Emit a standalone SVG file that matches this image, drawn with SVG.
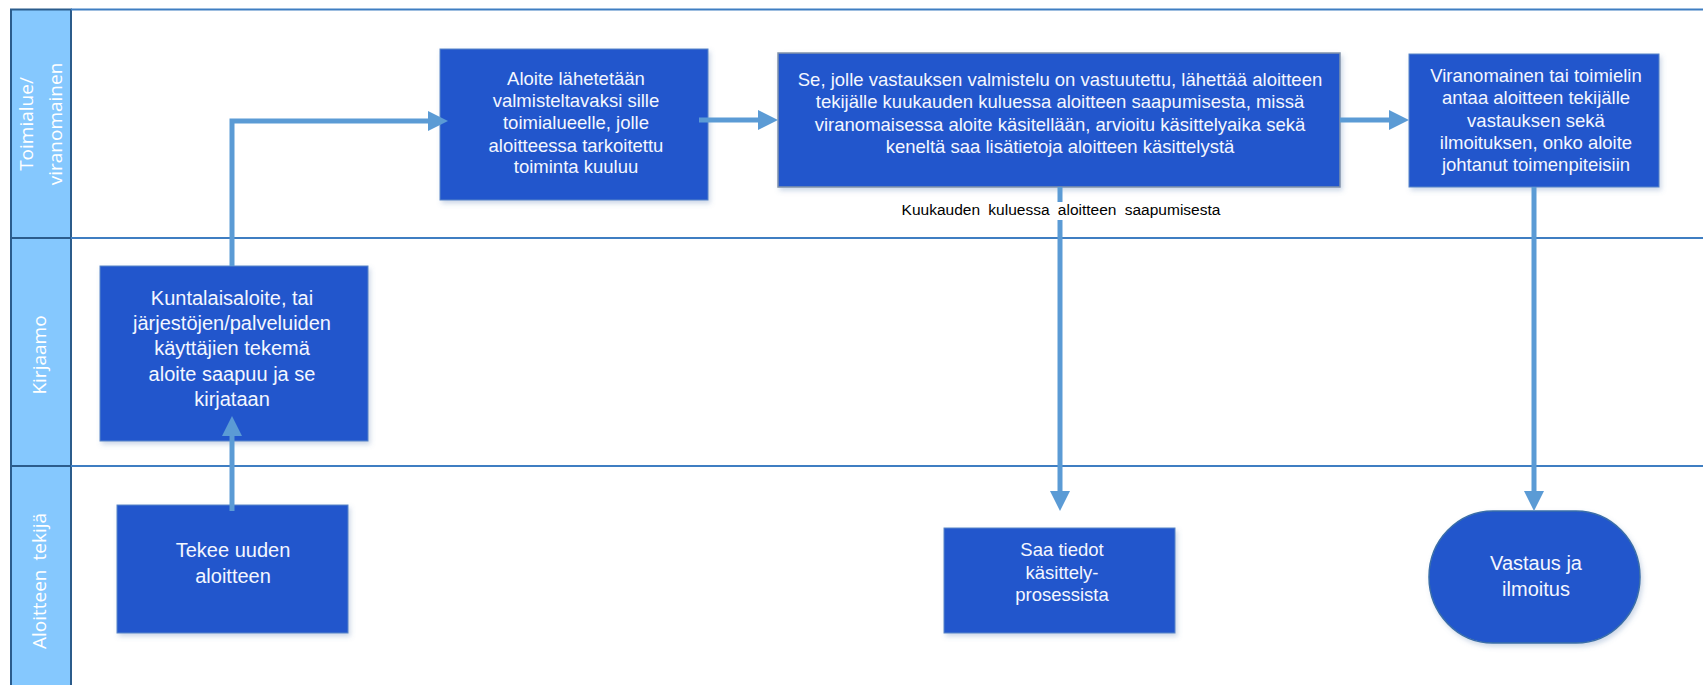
<svg xmlns="http://www.w3.org/2000/svg" width="1703" height="685" viewBox="0 0 1703 685">
<style>
.lane{fill:#85C8FE;stroke:#2B5C8C;stroke-width:2}
.lline{stroke:#3F7EC2;stroke-width:2;fill:none}
.box{fill:#2157CC;stroke:#5B86C8;stroke-width:1}
.box2{fill:#2157CC;stroke:#8193AB;stroke-width:1.5}
.t{font-family:"Liberation Sans",Arial,sans-serif;fill:#F4F7FF;text-anchor:middle}
.s18{font-size:18.5px}
.s20{font-size:20px}
.lt{font-family:"Open Sans","Liberation Sans",sans-serif;font-size:19px;fill:#FFFFFF;text-anchor:middle}
.conn{stroke:#5B9BD5;stroke-width:5;fill:none}
.lbl{font-family:"Liberation Sans",Arial,sans-serif;font-size:15.5px;fill:#000;text-anchor:middle;word-spacing:4px}
</style>
<defs>
<marker id="arr" markerUnits="userSpaceOnUse" markerWidth="22" markerHeight="22" refX="2" refY="10" orient="auto" viewBox="0 0 22 22">
<path d="M0,0 L20,10 L0,20 Z" fill="#5B9BD5"/>
</marker>
<filter id="sh" x="-5%" y="-5%" width="115%" height="120%">
<feDropShadow dx="2" dy="3" stdDeviation="2.5" flood-color="#5B7FB0" flood-opacity="0.3"/>
</filter>
</defs>

<g id="lanes">
<rect class="lane" x="11" y="9.5" width="60" height="690"/>
<line class="lline" x1="71" y1="9.5" x2="1703" y2="9.5"/>
<line class="lline" x1="71" y1="238" x2="1703" y2="238"/>
<line class="lline" x1="71" y1="466" x2="1703" y2="466"/>
<line x1="11" y1="238" x2="71" y2="238" stroke="#2B5C8C" stroke-width="2"/>
<line x1="11" y1="466" x2="71" y2="466" stroke="#2B5C8C" stroke-width="2"/>
<g id="lane1" class="lt"><text transform="translate(33,124) rotate(-90)">Toimialue/</text><text transform="translate(62,124) rotate(-90)">viranomainen</text></g>
<g id="lane2" class="lt"><text transform="translate(46,355) rotate(-90)">Kirjaamo</text></g>
<g id="lane3" class="lt"><text transform="translate(46,581) rotate(-90)" style="word-spacing:4px">Aloitteen tekijä</text></g>
</g>

<g id="n_kuntalaisaloite">
<rect class="box" x="100" y="266" width="268" height="175" filter="url(#sh)"/>
<text class="t s20"><tspan x="232" y="305">Kuntalaisaloite, tai</tspan><tspan x="232" y="330">järjestöjen/palveluiden</tspan><tspan x="232" y="355">käyttäjien tekemä</tspan><tspan x="232" y="381">aloite saapuu ja se</tspan><tspan x="232" y="406">kirjataan</tspan></text>
</g>

<g id="n_lahetetaan">
<rect class="box" x="440" y="49" width="268" height="151" filter="url(#sh)"/>
<text class="t s18"><tspan x="576" y="85">Aloite lähetetään</tspan><tspan x="576" y="107">valmisteltavaksi  sille</tspan><tspan x="576" y="129">toimialueelle, jolle</tspan><tspan x="576" y="152">aloitteessa tarkoitettu</tspan><tspan x="576" y="173">toiminta kuuluu</tspan></text>
</g>

<g id="n_vastuutettu">
<rect class="box2" x="778" y="53" width="562" height="134" filter="url(#sh)"/>
<text class="t s18"><tspan x="1060" y="86">Se, jolle vastauksen valmistelu on vastuutettu, lähettää aloitteen</tspan><tspan x="1060" y="108">tekijälle kuukauden kuluessa aloitteen saapumisesta, missä</tspan><tspan x="1060" y="131">viranomaisessa aloite käsitellään, arvioitu käsittelyaika sekä</tspan><tspan x="1060" y="153">keneltä saa lisätietoja aloitteen käsittelystä</tspan></text>
</g>

<g id="n_viranomainen">
<rect class="box" x="1409" y="54" width="250" height="133" filter="url(#sh)"/>
<text class="t s18"><tspan x="1536" y="82">Viranomainen tai toimielin</tspan><tspan x="1536" y="104">antaa aloitteen tekijälle</tspan><tspan x="1536" y="127">vastauksen sekä</tspan><tspan x="1536" y="149">ilmoituksen, onko aloite</tspan><tspan x="1536" y="171">johtanut toimenpiteisiin</tspan></text>
</g>

<g id="n_tekee">
<rect class="box" x="117" y="505" width="231" height="128" filter="url(#sh)"/>
<text class="t s20"><tspan x="233" y="557">Tekee uuden</tspan><tspan x="233" y="583">aloitteen</tspan></text>
</g>

<g id="n_saa">
<rect class="box" x="944" y="528" width="231" height="105" filter="url(#sh)"/>
<text class="t s18"><tspan x="1062" y="556">Saa tiedot</tspan><tspan x="1062" y="579">käsittely-</tspan><tspan x="1062" y="601">prosessista</tspan></text>
</g>

<g id="n_vastaus">
<rect x="1429" y="511" width="211" height="132" rx="64" ry="66" fill="#2157CC" stroke="#3A6EA8" stroke-width="1.5" filter="url(#sh)"/>
<text class="t s20"><tspan x="1536" y="570">Vastaus ja</tspan><tspan x="1536" y="596">ilmoitus</tspan></text>
</g>

<g id="connectors">
<path class="conn" d="M232,266 V121 H430" marker-end="url(#arr)"/>
<path class="conn" d="M699,120 H760" marker-end="url(#arr)"/>
<path class="conn" d="M1340,120 H1391" marker-end="url(#arr)"/>
<path class="conn" d="M1534,187 V493" marker-end="url(#arr)"/>
<path class="conn" d="M1060,187 V493" marker-end="url(#arr)"/>
<path class="conn" d="M232,511 V434" marker-end="url(#arr)"/>
<rect x="896" y="202" width="330" height="18" fill="#FFFFFF"/>
<text class="lbl" x="1061" y="215">Kuukauden kuluessa aloitteen saapumisesta</text>
</g>
</svg>
